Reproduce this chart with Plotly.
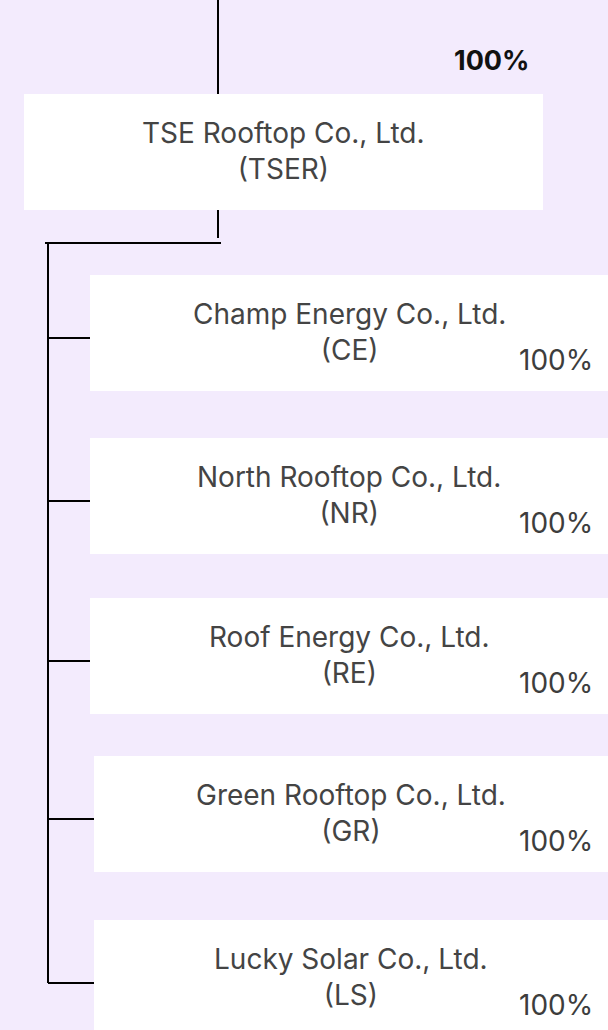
import plotly.graph_objects as go

# ---- data ----
parent_name = "TSE Rooftop Co., Ltd."
parent_code = "TSER"
parent_share = "100%"

child_names = ["Champ Energy Co., Ltd.", "North Rooftop Co., Ltd.", "Roof Energy Co., Ltd.",
               "Green Rooftop Co., Ltd.", "Lucky Solar Co., Ltd."]
child_codes = ["CE", "NR", "RE", "GR", "LS"]
child_shares = [100, 100, 100, 100, 100]

# ---- layout geometry (pixels, y downward) ----
W, H = 608, 1030
BG = "#F3EBFD"
FONT = "Inter"
parent_box = dict(x0=24, x1=543, y0=94, y1=210)
child_tops = [275, 438, 598, 756, 920]
child_lefts = [90, 90, 90, 94, 94]
child_h = 116
child_right = 610
branch_offset = 5
trunk_x = 48
stem_x = 218
bar_y = 243

fig = go.Figure()
shapes = []
annotations = []

line_style = dict(color="#000000", width=2)

# top stem
shapes.append(dict(type="line", x0=stem_x, x1=stem_x, y0=-5, y1=parent_box["y0"], line=line_style))
# parent box
shapes.append(dict(type="rect", **parent_box, fillcolor="#FFFFFF", line=dict(width=0)))
# stem below parent
shapes.append(dict(type="line", x0=stem_x, x1=stem_x, y0=parent_box["y1"], y1=238, line=line_style))
# horizontal bar
shapes.append(dict(type="line", x0=45, x1=221, y0=bar_y, y1=bar_y, line=line_style))

pcx = (parent_box["x0"] + parent_box["x1"]) / 2
pcy = (parent_box["y0"] + parent_box["y1"]) / 2 - 1
annotations.append(dict(x=pcx, y=pcy, text=f"{parent_name}<br>({parent_code})", showarrow=False,
                        xanchor="center", yanchor="middle", align="center",
                        font=dict(family=FONT, size=28, color="#444444")))
annotations.append(dict(x=531, y=60, text=parent_share, showarrow=False, xanchor="right", yanchor="middle",
                        font=dict(family=FONT, size=27, color="#111111", weight="bold")))

branch_ys = []
for i, (nm, cd, sh) in enumerate(zip(child_names, child_codes, child_shares)):
    top = child_tops[i]
    left = child_lefts[i]
    cy = top + child_h / 2
    by = cy + branch_offset
    branch_ys.append(by)
    shapes.append(dict(type="rect", x0=left, x1=child_right, y0=top, y1=top + child_h,
                       fillcolor="#FFFFFF", line=dict(width=0)))
    shapes.append(dict(type="line", x0=trunk_x, x1=left, y0=by, y1=by, line=line_style))
    cx = (left + 608) / 2
    annotations.append(dict(x=cx, y=cy - 1, text=f"{nm}<br>({cd})", showarrow=False,
                            xanchor="center", yanchor="middle", align="center",
                            font=dict(family=FONT, size=28, color="#444444")))
    annotations.append(dict(x=595, y=cy + 27, text=f"{sh}%", showarrow=False,
                            xanchor="right", yanchor="middle",
                            font=dict(family=FONT, size=28, color="#3d3d3d")))

# trunk
shapes.append(dict(type="line", x0=trunk_x, x1=trunk_x, y0=bar_y, y1=branch_ys[-1], line=line_style))

fig.update_layout(
    width=W, height=H, margin=dict(l=0, r=0, t=0, b=0),
    paper_bgcolor=BG, plot_bgcolor=BG, showlegend=False,
    xaxis=dict(range=[0, W], visible=False, fixedrange=True),
    yaxis=dict(range=[H, 0], visible=False, fixedrange=True),
    shapes=shapes, annotations=annotations,
)
fig.write_html("out.html", config={"displayModeBar": False},
               post_script="document.body.style.margin='0';document.body.style.overflow='hidden';")
